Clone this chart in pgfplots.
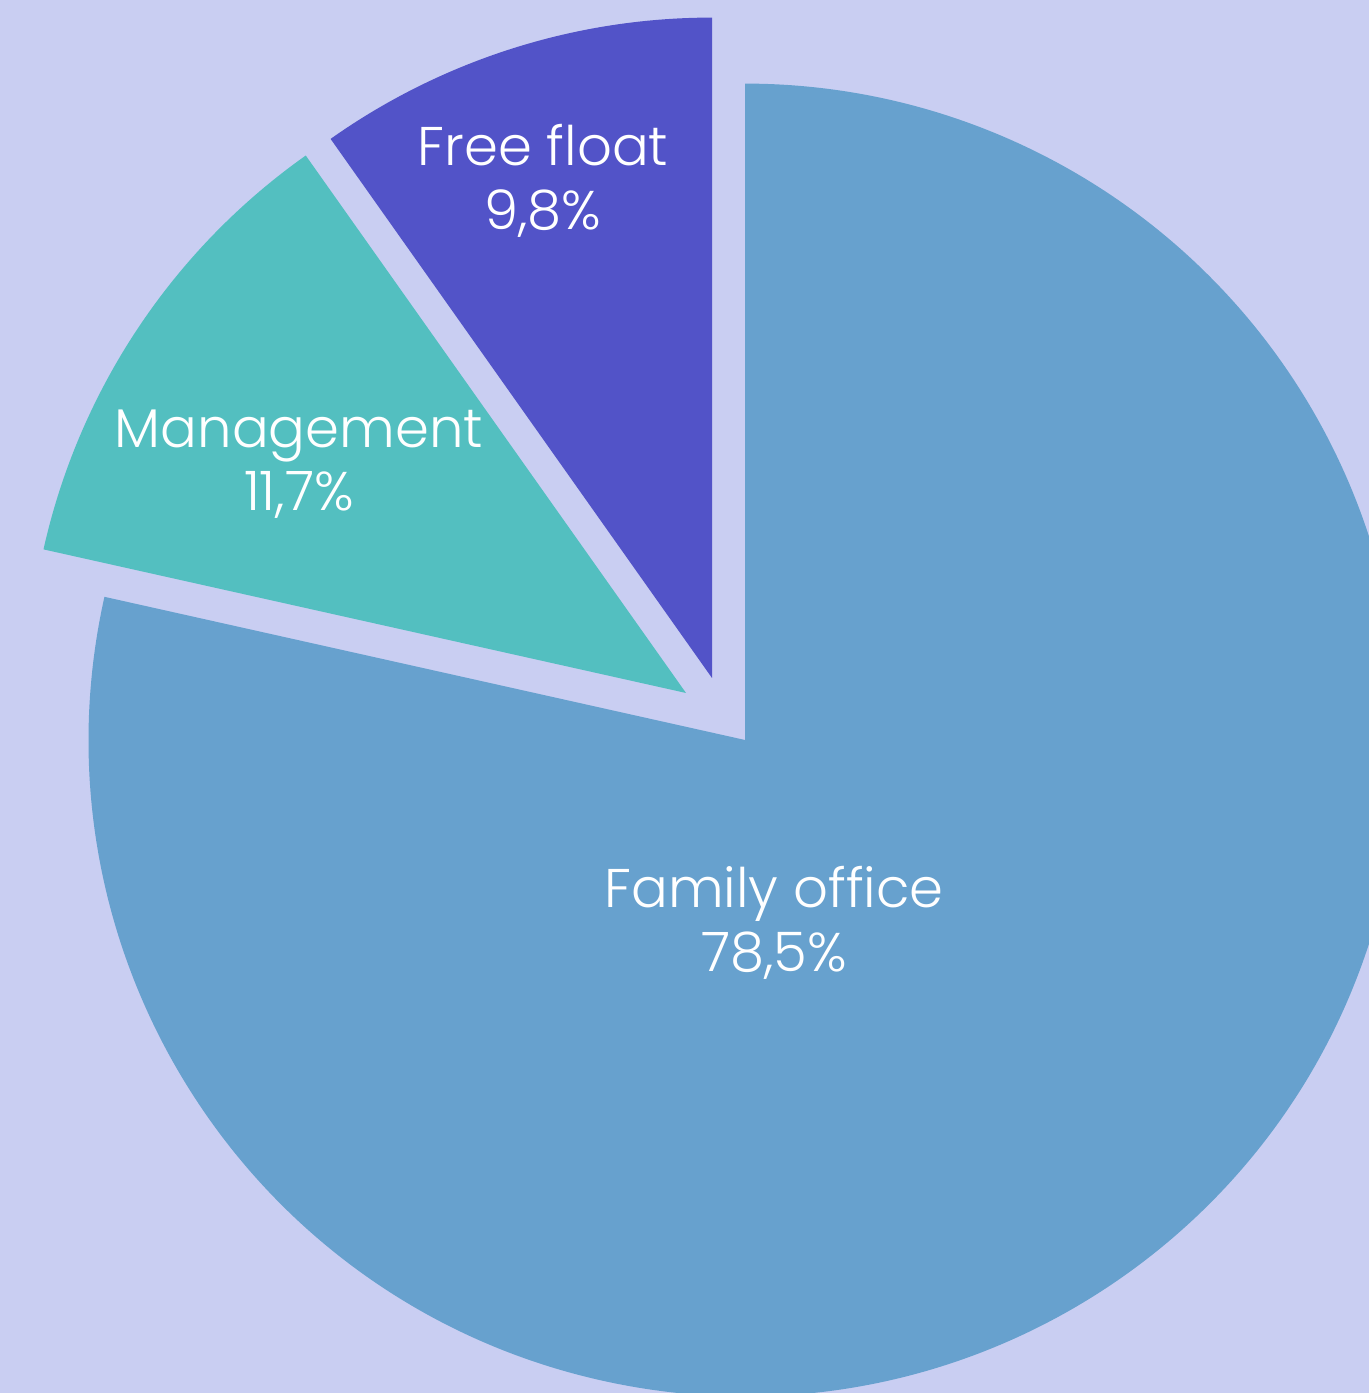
\documentclass[border=0pt]{standalone}
\usepackage{pgfplots}
\pgfplotsset{compat=1.18}
\usepackage{fontspec}
\setmainfont{Poppins}[UprightFont=* Light]
\definecolor{bgc}{HTML}{C9CEF2}
\definecolor{famc}{HTML}{67A1CE}
\definecolor{mgmc}{HTML}{53BFC0}
\definecolor{ffc}{HTML}{5253C8}
% shares in percent
\def\vFree{9.8}
\def\vMgmt{11.7}
\def\vFam{78.5}
\begin{document}
\begin{tikzpicture}
\pgfmathsetmacro{\aA}{90}
\pgfmathsetmacro{\aB}{90+3.6*\vFree}
\pgfmathsetmacro{\aC}{\aB+3.6*\vMgmt}
\pgfmathsetmacro{\aD}{\aC+3.6*\vFam}
\begin{axis}[
  x=0.01cm, y=0.01cm,
  xmin=0, xmax=1369, ymin=0, ymax=1393,
  hide axis, clip=true,
  scale only axis,
]
\fill[bgc] (axis cs:0,0) rectangle (axis cs:1369,1393);
% Family office
\fill[famc] (axis cs:745,653) -- ++(\aC:6.56cm) arc[start angle=\aC, end angle=\aD, radius=6.56cm] -- cycle;
% Management (exploded)
\fill[mgmc] (axis cs:686,700) -- ++(\aB:6.58cm) arc[start angle=\aB, end angle=\aC, radius=6.58cm] -- cycle;
% Free float (exploded)
\fill[ffc] (axis cs:712,715) -- ++(\aA:6.6cm) arc[start angle=\aA, end angle=\aB, radius=6.6cm] -- cycle;
\node[white, font=\fontsize{15.5}{18}\selectfont, align=center] at (axis cs:543,1212) {Free float\\9,8\%};
\node[white, font=\fontsize{15.5}{18}\selectfont, align=center] at (axis cs:299,929) {Management\\11,7\%};
\node[white, font=\fontsize{15.5}{18}\selectfont, align=center] at (axis cs:774,470) {Family office\\78,5\%};
\end{axis}
\end{tikzpicture}
\end{document}
